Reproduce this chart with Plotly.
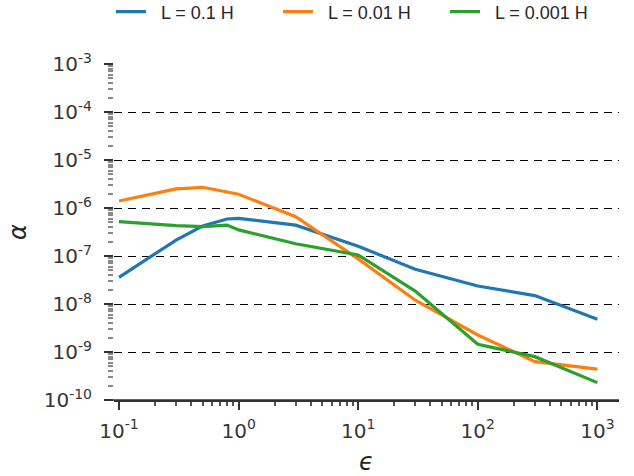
import plotly.graph_objects as go

eps = [0.1, 0.3, 0.5, 0.8, 1, 3, 10, 30, 100, 300, 1000]
alpha_01 = [3.6e-8, 2.15e-7, 4.2e-7, 5.9e-7, 6.1e-7, 4.4e-7, 1.6e-7, 5.3e-8, 2.37e-8, 1.5e-8, 4.8e-9]
alpha_001 = [1.4e-6, 2.5e-6, 2.7e-6, 2.15e-6, 1.93e-6, 6.6e-7, 8.7e-8, 1.2e-8, 2.26e-9, 6.3e-10, 4.4e-10]
alpha_0001 = [5.2e-7, 4.3e-7, 4.1e-7, 4.4e-7, 3.5e-7, 1.8e-7, 1.05e-7, 1.86e-8, 1.45e-9, 8.0e-10, 2.3e-10]
names = ["L = 0.1 H", "L = 0.01 H", "L = 0.001 H"]
colors = ["#1f77b4", "#ff7f0e", "#2ca02c"]

x_tickvals = [0.1, 1, 10, 100, 1000]
x_ticktext = ["10<sup>-1</sup>", "10<sup>0</sup>", "10<sup>1</sup>", "10<sup>2</sup>", "10<sup>3</sup>"]
y_tickvals = [1e-10, 1e-9, 1e-8, 1e-7, 1e-6, 1e-5, 1e-4, 1e-3]
y_ticktext = ["10<sup>-10</sup>", "10<sup>-9</sup>", "10<sup>-8</sup>", "10<sup>-7</sup>",
              "10<sup>-6</sup>", "10<sup>-5</sup>", "10<sup>-4</sup>", "10<sup>-3</sup>"]

fig = go.Figure()
for ys, nm, c in zip([alpha_01, alpha_001, alpha_0001], names, colors):
    fig.add_trace(go.Scatter(x=eps, y=ys, name="\u00a0\u00a0" + nm, mode="lines",
                             line=dict(color=c, width=3.2)))

tickfont = dict(family="DejaVu Sans", size=20, color="#363636")

fig.update_layout(
    width=634, height=476,
    margin=dict(l=114, r=15, t=64, b=76, autoexpand=False),
    paper_bgcolor="white", plot_bgcolor="white",
    showlegend=True,
    legend=dict(orientation="h", x=-0.006, xanchor="left", y=1.155, yanchor="middle",
                font=dict(family="Liberation Sans", size=18, color="#262626"),
                itemwidth=30, entrywidth=122, bgcolor="rgba(0,0,0,0)"),
    xaxis=dict(type="log", range=[-1.042, 3.181], tickvals=x_tickvals, ticktext=x_ticktext,
               tickfont=tickfont, ticks="outside", ticklen=8, tickwidth=1.5, tickcolor="#333333",
               ticklabelstandoff=4,
               showline=True, linecolor="#333333", linewidth=1.5, showgrid=False, zeroline=False,
               minor=dict(ticks="outside", ticklen=4, tickcolor="#555555", dtick="D1", showgrid=False),
               title=dict(text="<i>ϵ</i>", font=dict(family="DejaVu Sans", size=24, color="#262626"), standoff=12)),
    yaxis=dict(type="log", range=[-10, -3], tickvals=y_tickvals, ticktext=y_ticktext,
               tickfont=tickfont, ticks="outside", ticklen=9, tickwidth=1.5, tickcolor="#333333",
               ticklabelstandoff=8,
               showline=False, showgrid=True, gridcolor="black", gridwidth=1.2, griddash="8px,6px",
               zeroline=False,
               minor=dict(ticks="outside", ticklen=5, tickcolor="#888888", dtick="D1", showgrid=False),
               title=dict(text="<i>α</i>", font=dict(family="DejaVu Sans", size=24, color="#262626"), standoff=10)),
)
fig.add_shape(type="line", xref="paper", yref="paper", x0=-9/505, x1=1, y0=0, y1=0,
              line=dict(color="#333333", width=1.5))
fig.write_html("out.html")
